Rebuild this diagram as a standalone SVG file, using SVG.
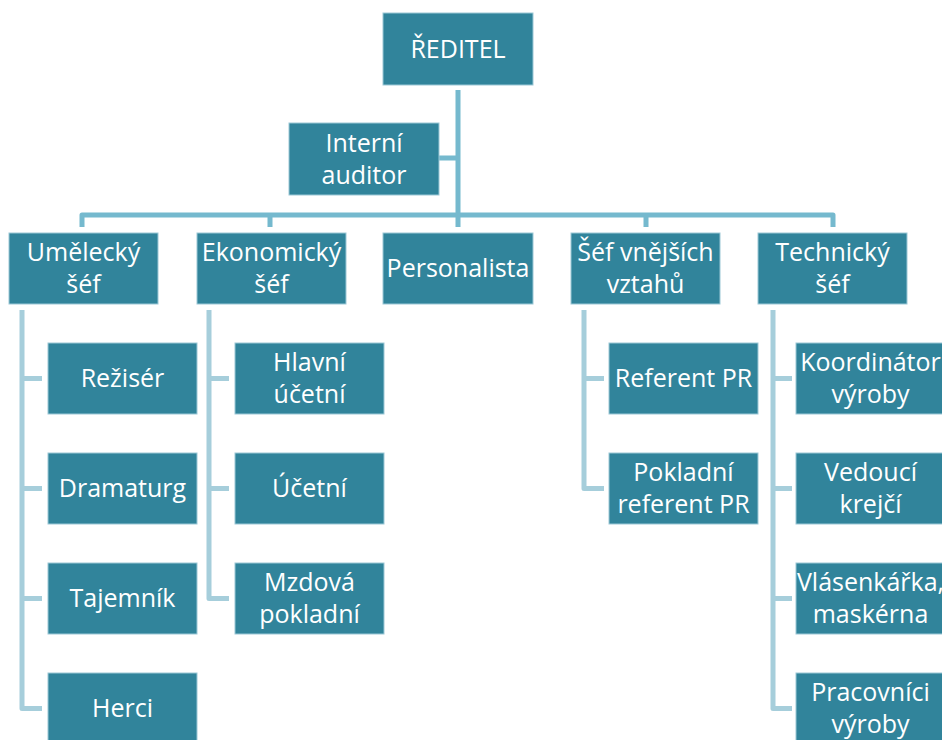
<svg xmlns="http://www.w3.org/2000/svg" width="942" height="740" viewBox="0 0 942 740">
<style>
.box rect{fill:#31849B;stroke:#9CC8D6;stroke-width:1}
.box text{fill:#ffffff;font-family:"Open Sans","Liberation Sans",sans-serif;font-size:25px;text-anchor:middle}
.c1{fill:none;stroke:#75B9CE;stroke-width:5;stroke-linejoin:round}
.c2{fill:none;stroke:#A6CEDB;stroke-width:5;stroke-linejoin:round}
</style>
<rect width="942" height="740" fill="#ffffff"/>
<g id="connectors">
<path class="c1" d="M458 90 V227 M439 158 H458 M82 227 V215 H833 V227 M270 215 V227 M646 215 V227"/>
<path class="c2" d="M22 310 V708.5 H42 M22 378.5 H42 M22 488.5 H42 M22 598.5 H42"/>
<path class="c2" d="M209 310 V598.5 H229 M209 378.5 H229 M209 488.5 H229"/>
<path class="c2" d="M584 310 V488.5 H604 M584 378.5 H604"/>
<path class="c2" d="M773 310 V708.5 H792 M773 378.5 H792 M773 488.5 H792 M773 598.5 H792"/>
</g>
<g id="reditel" class="box"><rect x="383" y="13" width="150" height="72"/><text x="458" y="58">ŘEDITEL</text></g>
<g id="auditor" class="box"><rect x="289" y="123" width="150" height="72"/><text x="364" y="152">Interní</text><text x="364" y="184">auditor</text></g>
<g id="umelecky" class="box"><rect x="9" y="233" width="149" height="71"/><text x="83.5" y="261">Umělecký</text><text x="83.5" y="293">šéf</text></g>
<g id="ekonomicky" class="box"><rect x="197" y="233" width="149" height="71"/><text x="271.5" y="261">Ekonomický</text><text x="271.5" y="293">šéf</text></g>
<g id="personalista" class="box"><rect x="383" y="233" width="150" height="71"/><text x="458" y="277">Personalista</text></g>
<g id="vnejsi" class="box"><rect x="571" y="233" width="149" height="71"/><text x="645.5" y="261">Šéf vnějších</text><text x="645.5" y="293">vztahů</text></g>
<g id="technicky" class="box"><rect x="758" y="233" width="149" height="71"/><text x="832.5" y="261">Technický</text><text x="832.5" y="293">šéf</text></g>
<g id="reziser" class="box"><rect x="48" y="343" width="149" height="71"/><text x="122.5" y="387">Režisér</text></g>
<g id="dramaturg" class="box"><rect x="48" y="453" width="149" height="71"/><text x="122.5" y="497">Dramaturg</text></g>
<g id="tajemnik" class="box"><rect x="48" y="563" width="149" height="71"/><text x="122.5" y="607">Tajemník</text></g>
<g id="herci" class="box"><rect x="48" y="673" width="149" height="71"/><text x="122.5" y="717">Herci</text></g>
<g id="hlavni" class="box"><rect x="235" y="343" width="149" height="71"/><text x="309.5" y="371">Hlavní</text><text x="309.5" y="403">účetní</text></g>
<g id="ucetni" class="box"><rect x="235" y="453" width="149" height="71"/><text x="309.5" y="497">Účetní</text></g>
<g id="mzdova" class="box"><rect x="235" y="563" width="149" height="71"/><text x="309.5" y="591">Mzdová</text><text x="309.5" y="623">pokladní</text></g>
<g id="referent" class="box"><rect x="609" y="343" width="149" height="71"/><text x="683.5" y="387">Referent PR</text></g>
<g id="pokladni" class="box"><rect x="609" y="453" width="149" height="71"/><text x="683.5" y="481">Pokladní</text><text x="683.5" y="513">referent PR</text></g>
<g id="koordinator" class="box"><rect x="796" y="343" width="149" height="71"/><text x="870.5" y="371">Koordinátor</text><text x="870.5" y="403">výroby</text></g>
<g id="vedouci" class="box"><rect x="796" y="453" width="149" height="71"/><text x="870.5" y="481">Vedoucí</text><text x="870.5" y="513">krejčí</text></g>
<g id="vlasenkarka" class="box"><rect x="796" y="563" width="149" height="71"/><text x="870.5" y="591">Vlásenkářka,</text><text x="870.5" y="623">maskérna</text></g>
<g id="pracovnici" class="box"><rect x="796" y="673" width="149" height="71"/><text x="870.5" y="701">Pracovníci</text><text x="870.5" y="733">výroby</text></g>
</svg>
